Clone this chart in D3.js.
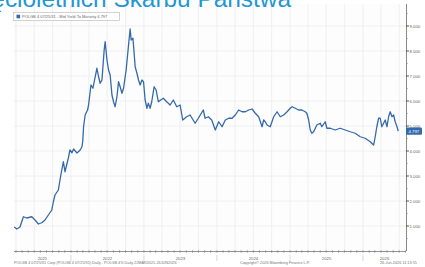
<!DOCTYPE html>
<html>
<head>
<meta charset="utf-8">
<script src="https://cdn.jsdelivr.net/npm/d3@7"></script>
<style>
  body { margin: 0; background: #fff; }
  svg { display: block; }
</style>
</head>
<body>
<svg width="425" height="267"></svg>
<script>
var svg = d3.select('svg');

// yield series (date, mid YTM %)
var dates = [
  '2021-03-23','2021-04-05','2021-04-21','2021-05-08','2021-05-25','2021-06-19','2021-07-05','2021-07-22',
  '2021-08-08','2021-08-24','2021-09-10','2021-09-27','2021-10-05','2021-10-13','2021-10-30','2021-11-07',
  '2021-11-16','2021-11-24','2021-12-02','2021-12-19','2021-12-27',
  '2022-01-06','2022-01-14','2022-01-31','2022-02-16','2022-02-25','2022-03-01','2022-03-05','2022-03-13',
  '2022-03-25','2022-03-30','2022-04-11','2022-04-21','2022-04-29','2022-05-11','2022-05-19','2022-05-27',
  '2022-06-05','2022-06-16','2022-06-21','2022-06-30','2022-07-08','2022-07-16','2022-07-25','2022-08-02',
  '2022-08-10','2022-08-19','2022-08-27','2022-09-04','2022-09-13','2022-09-21','2022-10-04','2022-10-16',
  '2022-10-24','2022-10-29','2022-11-07','2022-11-13','2022-11-18','2022-11-27','2022-12-05','2022-12-13',
  '2022-12-22','2022-12-30',
  '2023-01-07','2023-01-16','2023-01-23','2023-02-01','2023-02-09','2023-02-21','2023-03-03','2023-03-14',
  '2023-03-26','2023-04-08','2023-04-25','2023-05-12','2023-05-28','2023-06-14','2023-07-01','2023-07-14',
  '2023-08-03','2023-08-20','2023-09-14','2023-09-30','2023-10-25','2023-11-03','2023-11-19','2023-12-06',
  '2023-12-24',
  '2024-01-10','2024-01-27','2024-02-12','2024-02-29','2024-03-17','2024-04-02','2024-04-19','2024-05-06',
  '2024-05-22','2024-06-08','2024-06-25','2024-07-11','2024-07-28','2024-08-14','2024-08-22','2024-08-30',
  '2024-09-08','2024-09-24','2024-10-11','2024-10-28','2024-11-13','2024-11-30','2024-12-17',
  '2025-01-02','2025-01-11','2025-01-27','2025-02-13','2025-03-01','2025-03-18','2025-03-26','2025-04-04',
  '2025-04-12','2025-04-20','2025-04-29','2025-05-15','2025-06-01','2025-06-09','2025-06-26','2025-07-04',
  '2025-07-21','2025-08-15','2025-09-09','2025-10-04','2025-10-29','2025-11-23','2025-12-18',
  '2026-01-12','2026-02-06','2026-02-23','2026-03-03','2026-03-11','2026-03-20','2026-03-28','2026-04-05',
  '2026-04-14','2026-04-22','2026-05-01','2026-05-09','2026-05-17','2026-05-26','2026-06-03','2026-06-11',
  '2026-06-20','2026-06-26'
];
var yields = [
  0.96,0.88,0.96,1.37,1.32,1.37,1.24,1.08,
  1.13,1.24,1.44,1.64,1.97,2.24,2.44,2.84,
  3.24,3.57,3.17,3.72,4.04,
  3.93,4.08,3.92,4.04,4.17,4.40,4.97,5.44,
  5.64,5.84,6.64,6.51,6.84,7.31,6.97,6.71,
  6.84,8.04,8.37,7.64,7.24,7.04,6.24,5.97,
  5.77,6.17,6.77,6.57,6.31,6.51,7.24,8.24,
  8.88,8.44,8.51,7.91,7.37,7.11,6.84,6.64,
  6.84,6.77,
  6.04,5.71,5.91,5.71,5.97,6.57,6.44,5.97,
  6.04,6.11,5.97,5.84,6.04,5.77,5.84,5.24,
  5.37,5.44,5.11,5.31,5.64,5.31,5.37,5.24,
  4.84,
  5.17,4.97,5.24,5.31,5.31,5.44,5.64,5.57,
  5.57,5.64,5.68,5.51,5.37,4.97,5.24,5.17,
  5.04,4.97,5.37,5.57,5.37,5.44,5.57,
  5.71,5.77,5.71,5.64,5.64,5.57,5.51,5.24,
  4.84,4.71,4.77,5.04,5.11,4.97,5.17,4.91,
  4.91,4.84,4.91,4.84,4.77,4.71,4.57,
  4.51,4.37,4.24,4.57,4.97,5.31,5.31,4.97,
  5.11,5.24,4.97,5.37,5.57,5.37,5.44,5.17,
  4.97,4.797
];
var yTicks = [1, 2, 3, 4, 5, 6, 7, 8, 9];
var yearLabels = ['2021', '2022', '2023', '2024', '2025', '2026'];
var lastValue = 4.797;

var parse = d3.timeParse('%Y-%m-%d');
var data = dates.map(function(d, i) { return { date: parse(d), value: yields[i] }; });

var plotLeft = 14, plotRight = 406, plotTop = 1, plotBottom = 251;
var x = d3.scaleTime()
  .domain([new Date(2021, 2, 22), new Date(2026, 7, 4)])
  .range([plotLeft, plotRight]);
var y = d3.scaleLinear().domain([0, 10]).range([plotBottom, plotTop]);

var blue = '#3469ab';
var fontFam = '"Liberation Sans", Arial, sans-serif';

// plot background
svg.append('rect')
  .attr('x', plotLeft).attr('y', 4)
  .attr('width', plotRight - plotLeft).attr('height', plotBottom - 4)
  .attr('fill', '#fdfdfd');

// vertical grid, quarterly
svg.append('g').selectAll('line')
  .data(d3.timeMonth.every(3).range(x.domain()[0], x.domain()[1]))
  .enter().append('line')
  .attr('x1', function(d) { return x(d); })
  .attr('x2', function(d) { return x(d); })
  .attr('y1', 4).attr('y2', plotBottom)
  .attr('stroke', '#ececec').attr('stroke-width', 0.8);

// horizontal grid
svg.append('g').selectAll('line')
  .data(yTicks)
  .enter().append('line')
  .attr('x1', plotLeft).attr('x2', plotRight)
  .attr('y1', function(d) { return y(d); })
  .attr('y2', function(d) { return y(d); })
  .attr('stroke', '#ececec').attr('stroke-width', 0.8);

// title (cropped at top)
svg.append('text')
  .attr('x', 291).attr('y', 7)
  .attr('text-anchor', 'end')
  .attr('font-family', fontFam)
  .attr('font-size', 24.4)
  .attr('fill', '#1f97d4')
  .text('Rentowność obligacji dziesięcioletnich Skarbu Państwa');

// legend box
var legend = svg.append('g');
legend.append('rect')
  .attr('x', 13.5).attr('y', 12.5).attr('width', 106).attr('height', 8)
  .attr('fill', '#fff').attr('stroke', '#b5b5b5').attr('stroke-width', 0.6);
legend.append('rect')
  .attr('x', 16.5).attr('y', 14.7).attr('width', 3.6).attr('height', 3.6)
  .attr('fill', blue);
legend.append('text')
  .attr('x', 22).attr('y', 18.3)
  .attr('font-family', fontFam).attr('font-size', 4)
  .attr('fill', '#666')
  .text('POLGB 4 07/25/31 - Mid Yield To Maturity 4.797');

// line
var line = d3.line()
  .x(function(d) { return x(d.date); })
  .y(function(d) { return y(d.value); });

svg.append('path')
  .datum(data)
  .attr('d', line)
  .attr('fill', 'none')
  .attr('stroke', blue)
  .attr('stroke-width', 1.3)
  .attr('stroke-linejoin', 'round');

// right y axis
var yAxisG = svg.append('g');
yAxisG.append('line')
  .attr('x1', plotRight + 0.5).attr('x2', plotRight + 0.5)
  .attr('y1', 4).attr('y2', plotBottom)
  .attr('stroke', '#555').attr('stroke-width', 0.7);
yAxisG.selectAll('.minor')
  .data(d3.range(0.5, 10, 1))
  .enter().append('line')
  .attr('x1', plotRight).attr('x2', plotRight + 2)
  .attr('y1', function(d) { return y(d); })
  .attr('y2', function(d) { return y(d); })
  .attr('stroke', '#888').attr('stroke-width', 0.5);
yAxisG.selectAll('.major')
  .data(yTicks)
  .enter().append('line')
  .attr('x1', plotRight).attr('x2', plotRight + 3)
  .attr('y1', function(d) { return y(d); })
  .attr('y2', function(d) { return y(d); })
  .attr('stroke', '#333').attr('stroke-width', 0.8);
yAxisG.selectAll('text')
  .data(yTicks)
  .enter().append('text')
  .attr('x', plotRight + 3.5)
  .attr('y', function(d) { return y(d) + 1.5; })
  .attr('font-family', fontFam).attr('font-size', 4.3)
  .attr('fill', '#666')
  .text(function(d) { return d3.format('.3f')(d); });

// last value tag
svg.append('rect')
  .attr('x', plotRight).attr('y', y(lastValue) - 3.6)
  .attr('width', 16).attr('height', 7.2).attr('rx', 1.2)
  .attr('fill', blue);
svg.append('text')
  .attr('x', plotRight + 2.5).attr('y', y(lastValue) + 1.5)
  .attr('font-family', fontFam).attr('font-size', 4.3)
  .attr('fill', '#fff')
  .text(d3.format('.3f')(lastValue));

// bottom x axis
var xAxisG = svg.append('g');
xAxisG.append('line')
  .attr('x1', plotLeft).attr('x2', plotRight)
  .attr('y1', plotBottom + 0.5).attr('y2', plotBottom + 0.5)
  .attr('stroke', '#666').attr('stroke-width', 0.7);
xAxisG.selectAll('.mtick')
  .data(d3.timeMonth.range(x.domain()[0], x.domain()[1]))
  .enter().append('line')
  .attr('x1', function(d) { return x(d); })
  .attr('x2', function(d) { return x(d); })
  .attr('y1', plotBottom - 1).attr('y2', plotBottom + 2)
  .attr('stroke', '#777').attr('stroke-width', 0.5);

var yearStarts = d3.timeYear.range(x.domain()[0], x.domain()[1]);
xAxisG.selectAll('.ysep')
  .data(yearStarts)
  .enter().append('line')
  .attr('x1', function(d) { return x(d); })
  .attr('x2', function(d) { return x(d); })
  .attr('y1', plotBottom + 4).attr('y2', plotBottom + 10)
  .attr('stroke', '#bbb').attr('stroke-width', 0.6);

xAxisG.selectAll('.ylab')
  .data(yearLabels)
  .enter().append('text')
  .attr('x', function(d) {
    var a = Math.max(x(new Date(+d, 0, 1)), plotLeft);
    var b = Math.min(x(new Date(+d + 1, 0, 1)), plotRight);
    return (a + b) / 2;
  })
  .attr('y', plotBottom + 9)
  .attr('text-anchor', 'middle')
  .attr('font-family', fontFam).attr('font-size', 4.3)
  .attr('fill', '#666')
  .text(function(d) { return d; });

// footer
var footer = svg.append('g')
  .attr('font-family', fontFam).attr('font-size', 3.8).attr('fill', '#777');
footer.append('text').attr('x', 14).attr('y', 264)
  .text('POLGB 4 07/25/31 Corp (POLGB 4 07/25/31) Daily - POLGB 4% Daily 22MAR2021-26JUN2026');
footer.append('text').attr('x', 240).attr('y', 264)
  .text('Copyright© 2026 Bloomberg Finance L.P.');
footer.append('text').attr('x', 380).attr('y', 264)
  .text('26-Jun-2026 11:13:55');
</script>
</body>
</html>
